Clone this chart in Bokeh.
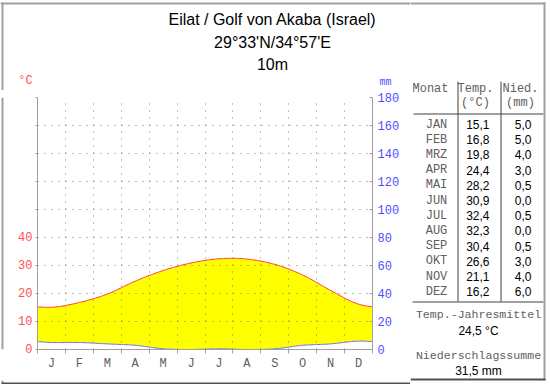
import numpy as np
from bokeh.plotting import figure
from bokeh.models import Range1d, LinearAxis, FixedTicker
from bokeh.layouts import row, column
from bokeh.core.properties import value
from bokeh.embed import file_html
from bokeh.resources import INLINE

# ---------------- data ----------------
month_letters = ["J", "F", "M", "A", "M", "J", "J", "A", "S", "O", "N", "D"]
month_names = ["JAN", "FEB", "MRZ", "APR", "MAI", "JUN", "JUL", "AUG", "SEP", "OKT", "NOV", "DEZ"]
temp = [15.1, 16.8, 19.8, 24.4, 28.2, 30.9, 32.4, 32.3, 30.4, 26.6, 21.1, 16.2]
prec = [5.0, 5.0, 4.0, 3.0, 0.5, 0.0, 0.5, 0.0, 0.5, 3.0, 4.0, 6.0]
temp_ticks = [0, 10, 20, 30, 40, 50, 60, 70, 80, 90]
temp_tick_labels = ["0", "10", "20", "30", "40"]
prec_ticks = [0, 20, 40, 60, 80, 100, 120, 140, 160, 180]
title_lines = ["Eilat / Golf von Akaba (Israel)", "29°33'N/34°57'E", "10m"]
MM_PER_C = 2.0

def de(v):
    return ("%.1f" % v).replace(".", ",")

# periodic Catmull-Rom smoothing through the monthly mid points (render curve only)
def smooth(vals, n=24):
    v = np.asarray(vals, float)
    ext = np.concatenate([v[-2:], v, v[:2]])
    xs, ys = [], []
    for k in range(-1, 12):
        p0, p1, p2, p3 = ext[k + 1], ext[k + 2], ext[k + 3], ext[k + 4]
        t = np.linspace(0, 1, n, endpoint=False)
        y = 0.5 * (2 * p1 + (-p0 + p2) * t + (2 * p0 - 5 * p1 + 4 * p2 - p3) * t ** 2
                   + (-p0 + 3 * p1 - 3 * p2 + p3) * t ** 3)
        xs.append(k + 0.5 + t); ys.append(y)
    xs = np.concatenate(xs); ys = np.concatenate(ys)
    m = (xs >= 0) & (xs <= 12)
    return xs[m], ys[m]

xs, ts = smooth(temp)
_, ps = smooth(prec)
ps = np.clip(ps, 0, None)

MONO = "Liberation Mono"
SANS = "Liberation Sans"
AX = "#a0a0a0"
GR = "#606060"
BORDER = "#a0a0a0"
BORDER_DARK = "#505050"

# plain "canvas" figure whose data coordinates are page pixels
def canvas(w, h, x0, y0):
    f = figure(width=w, height=h, x_range=Range1d(x0, x0 + w), y_range=Range1d(y0 + h, y0),
               output_backend="svg", toolbar_location=None, min_border=0,
               x_axis_type=None, y_axis_type=None)
    f.outline_line_color = None
    f.background_fill_color = "white"
    f.border_fill_color = "white"
    return f

def txt(f, xs_, ys_, texts, font=SANS, size="12px", color="black", align="center"):
    f.text(x=xs_, y=ys_, text=texts, text_font=value(font), text_font_size=value(size),
           text_color=color, text_align=align, text_baseline="middle")

def rect(f, l, r, t, b, color):
    f.quad(left=[l], right=[r], top=[t], bottom=[b], fill_color=color, line_color=None)

# ---------------- top strip: titles ----------------
top = canvas(410, 90, 0, 0)
txt(top, [272] * 3, [19, 42, 64], title_lines, size="16px")
txt(top, [25], [80], ["°C"], font=MONO, size="12px", color="#ff5050")
txt(top, [385], [82], ["mm"], font=MONO, size="10px", color="#5050ff")
rect(top, 0, 410, 2, 4, BORDER)
rect(top, 1, 3, 2, 90, BORDER)

# ---------------- left strip (border) ----------------
lstrip = canvas(12, 286, 0, 90)
rect(lstrip, 1, 3, 90, 376, BORDER)

# ---------------- bottom strip (border) ----------------
bstrip = canvas(410, 8, 0, 376)
rect(bstrip, 1, 3, 376, 380, BORDER)
rect(bstrip, 1, 410, 378, 380, BORDER_DARK)

# ---------------- climate chart ----------------
p = figure(width=398, height=286, x_range=Range1d(0, 12), y_range=Range1d(0, 90),
           output_backend="svg", toolbar_location=None,
           min_border_left=25, min_border_right=38, min_border_top=7, min_border_bottom=27)
p.outline_line_color = None
p.background_fill_color = "white"
p.border_fill_color = "white"
p.extra_y_ranges = {"mm": Range1d(0, 90 * MM_PER_C)}

p.varea(x=xs, y1=ps / MM_PER_C, y2=ts, fill_color="#ffff00")
p.line(xs, ts, line_color="#ff3838", line_width=1)
p.line(xs, ps, y_range_name="mm", line_color="#6a6aff", line_width=1)

xa = p.xaxis[0]
xa.ticker = FixedTicker(ticks=[i + 0.5 for i in range(12)], minor_ticks=list(range(13)))
xa.major_label_overrides = {i + 0.5: month_letters[i] for i in range(12)}
xa.major_tick_line_color = None
xa.major_tick_out = 4
xa.major_tick_in = 0
xa.minor_tick_out = 4
xa.minor_tick_in = 0
xa.minor_tick_line_color = AX
xa.axis_line_color = AX
xa.major_label_standoff = 3
xa.major_label_text_font = MONO
xa.major_label_text_font_size = "12px"
xa.major_label_text_color = GR

ya = p.yaxis[0]
ya.ticker = FixedTicker(ticks=temp_ticks)
ya.major_label_overrides = {t: (temp_tick_labels[i] if i < len(temp_tick_labels) else " ")
                            for i, t in enumerate(temp_ticks)}
ya.minor_tick_line_color = None
ya.major_tick_out = 2
ya.major_tick_in = 0
ya.major_tick_line_color = AX
ya.axis_line_color = AX
ya.major_label_standoff = 3
ya.major_label_text_font = MONO
ya.major_label_text_font_size = "12px"
ya.major_label_text_color = "#ff5050"

ra = LinearAxis(y_range_name="mm", ticker=FixedTicker(ticks=prec_ticks))
ra.minor_tick_line_color = None
ra.major_tick_out = 0
ra.major_tick_in = 3
ra.major_tick_line_color = AX
ra.axis_line_color = AX
ra.major_label_standoff = 5
ra.major_label_text_font = MONO
ra.major_label_text_font_size = "12px"
ra.major_label_text_color = "#5050ff"
p.add_layout(ra, "right")

p.xgrid.ticker = FixedTicker(ticks=list(range(1, 12)))
p.ygrid.ticker = FixedTicker(ticks=temp_ticks[1:])
for g in (p.xgrid[0], p.ygrid[0]):
    g.grid_line_color = "#808080"
    g.grid_line_dash = "1 6"
    g.grid_line_width = 1
    g.level = "overlay"

# ---------------- table ----------------
tb = canvas(140, 384, 410, 0)
txt(tb, [430, 475, 520], [88, 88, 88], ["Monat", "Temp.", "Nied."], font=MONO, color=GR)
txt(tb, [475, 520], [102, 102], ["(°C)", "(mm)"], font=MONO, color=GR)
rect(tb, 413, 543, 113, 114, "#404040")
rect(tb, 457, 458, 81, 301, "#404040")
rect(tb, 500, 501, 81, 301, "#404040")
row_y = [124 + i * 15.2 for i in range(12)]
txt(tb, [436] * 12, row_y, month_names, font=MONO, color=GR)
txt(tb, [489] * 12, row_y, [de(t) for t in temp], align="right")
txt(tb, [531] * 12, row_y, [de(v) for v in prec], align="right")
rect(tb, 412, 543, 301, 302, "#404040")
txt(tb, [478, 478], [314, 355], ["Temp.-Jahresmittel", "Niederschlagssumme"], font=MONO,
    size="11.6px", color=GR)
txt(tb, [478, 478], [330, 370], [de(sum(temp) / len(temp)) + " °C", de(sum(prec)) + " mm"])
rect(tb, 410, 545, 2, 4, BORDER)
rect(tb, 543, 545, 2, 380, BORDER)
rect(tb, 410, 545, 378, 380, BORDER_DARK)

layout = row(column(top, row(lstrip, p), bstrip), tb)

open("out.html", "w").write(file_html(layout, INLINE))
